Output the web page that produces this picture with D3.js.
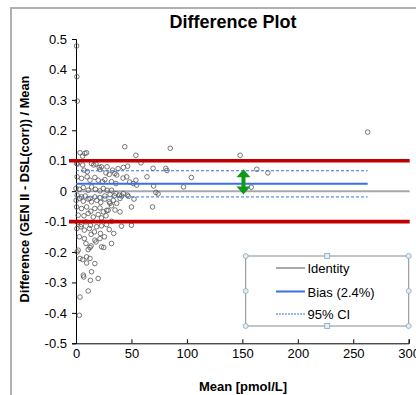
<!DOCTYPE html>
<html><head><meta charset="utf-8">
<script src="https://cdn.jsdelivr.net/npm/d3@7"></script>
<style>html,body{margin:0;padding:0;background:#fff;} svg{display:block;font-family:"Liberation Sans",Arial,sans-serif;}</style>
</head><body>
<svg id="c" width="416" height="395"></svg>
<script>
const title = "Difference Plot";
const xTitle = "Mean [pmol/L]";
const yTitle = "Difference (GEN II - DSL(corr)) / Mean";
const xTicks = [0, 50, 100, 150, 200, 250, 300];
const yTicks = [-0.5, -0.4, -0.3, -0.2, -0.1, 0, 0.1, 0.2, 0.3, 0.4, 0.5];
const yTickLabels = ["-0.5", "-0.4", "-0.3", "-0.2", "-0.1", "0", "0.1", "0.2", "0.3", "0.4", "0.5"];
const limits = [-0.1, 0.1];
const bias = 0.024;
const ci = [-0.019, 0.067];
const arrowRange = [151, 0.072, -0.011];
const legendLabels = ["Identity", "Bias (2.4%)", "95% CI"];
const points = [
[0.5,0.477],[0.8,0.376],[1.2,0.296],[263,0.194],
[148,0.118],[163,0.072],[173,0.060],[158,0.013],
[104,0.045],[97,0.014],[81,0.075],[82,0.068],[69.5,0.075],[70,0.017],[72,-0.004],[74,-0.009],[69,-0.052],[64,0.047],[58.6,0.093],[54,0.118],[46.6,0.082],[44,0.146],[85,0.141],
[48.4,0.030],[54,0.036],[54.7,0.020],[52.3,-0.026],[50,-0.052],[51.7,0.025],
[3.6,0.126],[8,0.124],[9.5,0.126],[6,0.115],[0.6,0.091],
[1.2,0.089],[6,0.086],[14,0.091],[16,0.086],[18,0.089],[21,0.078],[23,0.080],[7.2,0.069],[10.2,0.064],[27,0.060],[30,0.055],[33,0.069],[35,0.058],[36.7,0.053],[42.7,0.078],[38,0.074],[45.7,0.047],[21.6,0.071],[28,0.080],
[1,0.047],[5,0.042],[10,0.047],[12.6,0.036],[17,0.045],[20,0.036],[24,0.031],[26,0.038],[32,0.031],[36,0.025],[42.4,0.043],
[0,0.009],[3,0.006],[6.6,0.012],[11,0.003],[14,0.014],[17.5,0.006],[21.6,0.001],[24.6,0.009],[28,0.003],[32,0.003],[36,-0.008],[39,-0.013],[42.7,-0.008],[46.3,-0.013],
[1,-0.013],[5,-0.019],[8.3,-0.016],[12.6,-0.024],[17,-0.019],[21.6,-0.021],[26,-0.016],[30.7,-0.011],[34.6,-0.015],[39.7,-0.024],[41.2,-0.016],[47.2,-0.017],
[0.2,-0.030],[3,-0.024],[6.6,-0.033],[11,-0.026],[14,-0.035],[18.7,-0.030],[22.3,-0.037],[26,-0.026],[30,-0.035],[33.6,-0.030],[36.7,-0.040],[30.7,-0.040],
[0.6,-0.052],[5,-0.057],[9.6,-0.052],[13.3,-0.066],[17,-0.057],[21.6,-0.055],[24.6,-0.068],[29,-0.063],[32,-0.048],[39.7,-0.068],[27.7,-0.063],[35.2,-0.062],
[2,-0.079],[7.2,-0.081],[11,-0.073],[15.6,-0.085],[20,-0.077],[23,-0.088],[27,-0.081],
[1.4,-0.103],[5,-0.110],[9,-0.101],[13,-0.112],[18.6,-0.117],[23,-0.114],[27.5,-0.110],[32,-0.099],[41,-0.115],[50,-0.112],
[0.8,-0.123],[4.5,-0.117],[7.5,-0.128],[12,-0.123],[16.6,-0.134],[22,-0.139],[25.6,-0.150],[30,-0.126],[34,-0.139],
[3,-0.150],[7.5,-0.156],[13.6,-0.142],[17,-0.161],[21.6,-0.156],
[9,-0.172],[13.6,-0.180],[18,-0.167],[23,-0.183],[32,-0.172],[25,-0.185],[12.6,-0.185],[11,-0.192],
[2,-0.194],[1,-0.200],[3.6,-0.221],[6,-0.225],[9.6,-0.216],[12.6,-0.221],[9.6,-0.236],[17,-0.238],
[7,-0.282],[6.6,-0.276],[14,-0.265],[20,-0.287],[13,-0.293],[11,-0.328],[3.6,-0.348],[3,-0.408]
];

const svg = d3.select("#c");
const x = d3.scaleLinear().domain([0, 300]).range([76, 408.7]);
const y = d3.scaleLinear().domain([-0.5, 0.5]).range([343.3, 39]);

// outer frame
svg.append("path").attr("d", "M11,400 L11,8 L420,8").attr("fill", "none").attr("stroke", "#b0b0b0").attr("stroke-width", 2);

// title
svg.append("text").attr("x", 233).attr("y", 28).attr("text-anchor", "middle")
  .attr("font-size", 18).attr("font-weight", "bold").text(title);

// axes
const yAxis = d3.axisLeft(y).tickValues(yTicks).tickSize(4).tickPadding(5)
  .tickFormat((d, i) => yTickLabels[i]);
const gy = svg.append("g").attr("transform", `translate(${x(0)},0)`).call(yAxis);
gy.select(".domain").attr("stroke", "#000");
gy.selectAll("text").attr("font-size", 13).attr("font-family", "Liberation Sans, Arial, sans-serif").attr("fill", "#000");

const xAxis = d3.axisTop(x).tickValues(xTicks).tickSize(4).tickFormat(d3.format("d"));
const gx = svg.append("g").attr("transform", `translate(0,${y(-0.5)})`).call(xAxis);
gx.select(".domain").attr("stroke", "#000");
gx.selectAll("text").attr("y", 15).attr("dy", 0)
  .attr("font-size", 13).attr("font-family", "Liberation Sans, Arial, sans-serif").attr("fill", "#000");

// axis titles
svg.append("text").attr("x", 243).attr("y", 391).attr("text-anchor", "middle")
  .attr("font-size", 13).attr("font-weight", "bold").text(xTitle);
svg.append("text").attr("transform", `translate(29,189) rotate(-90)`).attr("text-anchor", "middle")
  .attr("font-size", 12.8).attr("font-weight", "bold").text(yTitle);

// identity line
svg.append("line").attr("x1", x(0)).attr("x2", x(300) + 1).attr("y1", y(0)).attr("y2", y(0))
  .attr("stroke", "#a8a8a8").attr("stroke-width", 2);

// points
svg.append("g").selectAll("circle").data(points).join("circle")
  .attr("cx", d => x(d[0])).attr("cy", d => y(d[1])).attr("r", 2.3)
  .attr("fill", "none").attr("stroke", "#555").attr("stroke-width", 0.8);

// bias & CI
const ext = d3.extent(points, d => d[0]);
svg.append("line").attr("x1", x(ext[0])).attr("x2", x(ext[1])).attr("y1", y(bias)).attr("y2", y(bias))
  .attr("stroke", "#3b6fe3").attr("stroke-width", 2);
svg.selectAll(".ci").data(ci).join("line").attr("class", "ci")
  .attr("x1", x(ext[0])).attr("x2", x(ext[1])).attr("y1", d => y(d)).attr("y2", d => y(d))
  .attr("stroke", "#3b6fe3").attr("stroke-width", 1).attr("stroke-dasharray", "3,2");

// limit lines
svg.selectAll(".lim").data(limits).join("line").attr("class", "lim")
  .attr("x1", x(0) - 7).attr("x2", x(300) + 1).attr("y1", d => y(d)).attr("y2", d => y(d))
  .attr("stroke", "#c00000").attr("stroke-width", 3.6);

// green double arrow
const ax = x(arrowRange[0]), ay1 = y(arrowRange[1]), ay2 = y(arrowRange[2]);
const hw = 7, hh = 8, sw = 2;
svg.append("path").attr("fill", "#119a1a")
  .attr("d", `M${ax},${ay1} L${ax + hw},${ay1 + hh} L${ax + sw},${ay1 + hh} L${ax + sw},${ay2 - hh} L${ax + hw},${ay2 - hh} L${ax},${ay2} L${ax - hw},${ay2 - hh} L${ax - sw},${ay2 - hh} L${ax - sw},${ay1 + hh} L${ax - hw},${ay1 + hh} Z`);

// legend
const lg = { x0: 245.7, x1: 408.7, y0: 256, y1: 326 };
svg.append("rect").attr("x", lg.x0).attr("y", lg.y0).attr("width", lg.x1 - lg.x0).attr("height", lg.y1 - lg.y0)
  .attr("fill", "#fff").attr("stroke", "#8a8a8a").attr("stroke-width", 1);
const styles = [
  { stroke: "#a8a8a8", w: 2, dash: null },
  { stroke: "#3b6fe3", w: 2, dash: null },
  { stroke: "#3b6fe3", w: 1, dash: "2,1" }
];
const legendY = [268, 291.5, 314];
legendLabels.forEach((lab, i) => {
  svg.append("line").attr("x1", 276).attr("x2", 305).attr("y1", legendY[i]).attr("y2", legendY[i])
    .attr("stroke", styles[i].stroke).attr("stroke-width", styles[i].w).attr("stroke-dasharray", styles[i].dash);
  svg.append("text").attr("x", 307.5).attr("y", legendY[i] + 5).attr("font-size", 13).text(lab);
});
const mx = (lg.x0 + lg.x1) / 2, my = (lg.y0 + lg.y1) / 2;
const corners = [[lg.x0, lg.y0], [lg.x1, lg.y0], [lg.x0, lg.y1], [lg.x1, lg.y1], [lg.x0, my], [lg.x1, my]];
svg.selectAll(".hc").data(corners).join("circle").attr("class", "hc")
  .attr("cx", d => d[0]).attr("cy", d => d[1]).attr("r", 2.5)
  .attr("fill", "#e4eef5").attr("stroke", "#8aa6ba").attr("stroke-width", 0.8);
svg.selectAll(".hs").data([[mx, lg.y0], [mx, lg.y1]]).join("rect").attr("class", "hs")
  .attr("x", d => d[0] - 2.5).attr("y", d => d[1] - 2.5).attr("width", 5).attr("height", 5)
  .attr("fill", "#e4eef5").attr("stroke", "#8aa6ba").attr("stroke-width", 0.8);
</script>
</body></html>
